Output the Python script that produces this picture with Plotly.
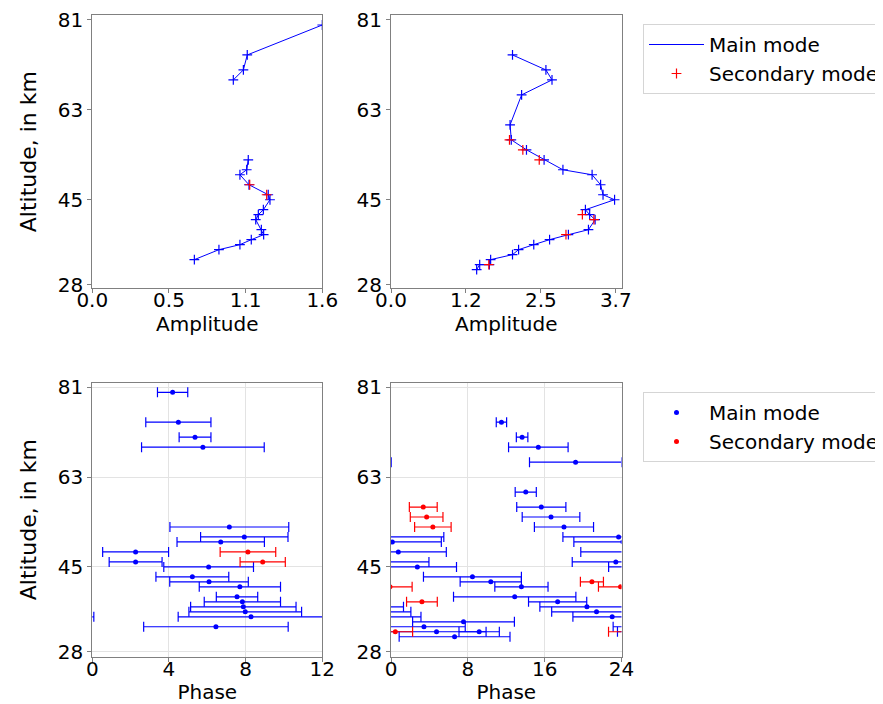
import plotly.graph_objects as go

# ---------------- data ----------------
# Left site (period 12 h)
alt_left = [80, 74, 71, 69, 66, 53, 51, 50, 48, 46, 45, 43, 42, 41, 39, 38, 37, 36, 35, 33]
amp_left = [1.60, 1.078, 1.051, 0.981, None, 1.085, 1.074, 1.027, 1.09, 1.224, 1.236,
            1.190, 1.155, 1.137, 1.176, 1.192, 1.106, 1.027, 0.881, 0.710]
phase_left = [4.19, 4.49, 5.36, 5.77, None, 7.15, 7.93, 6.70, 2.26, 2.26, 6.07,
              5.22, 6.09, 7.70, 7.55, 7.83, 7.88, 7.98, 8.28, 6.45]
phase_err_left = [0.79, 1.7, 0.83, 3.2, None, 3.1, 2.28, 2.28, 1.72, 1.38, 2.34,
                  1.9, 2.05, 2.12, 1.08, 1.99, 2.75, 2.94, 3.8, 3.77]
sec_alt_left = [48, 46]
sec_amp_left = [1.095, 1.213]
sec_phase_left = [8.12, 8.89]
sec_phase_err_left = [1.45, 1.18]

# Right site (period 24 h)
alt_right = [74, 71, 69, 66, 60, 57, 55, 53, 51, 50, 48, 46, 45, 43, 42, 41, 39, 38,
             37, 36, 35, 34, 33, 32, 32, 31]
amp_right = [2.00, 2.55, 2.65, 2.15, 1.96, 1.98, 2.23, 2.52, 2.83, 3.31, 3.45, 3.49,
             3.68, 3.20, 3.27, 3.36, 3.25, 2.92, 2.61, 2.35, 2.10, 2.00, 1.64, 1.62,
             1.46, 1.41]
phase_right = [11.50, 13.65, 15.34, 19.22, 14.03, 15.65, 16.66, 18.01, 23.7, 0.14,
               0.76, 23.41, 2.74, 8.48, 10.39, 13.58, 12.88, 17.35, 20.4, 21.4, 23.03,
               7.55, 3.43, 4.74, 9.18, 6.62]
phase_err_right = [0.54, 0.6, 3.1, 4.8, 1.1, 2.56, 3.0, 3.08, 5.8, 5.1, 5.0, 4.54,
                   4.08, 5.1, 3.19, 2.77, 6.37, 3.03, 4.9, 4.67, 4.09, 5.3, 4.3, 5.16,
                   2.1, 5.77]
sec_alt_right = [57, 55, 53, 42, 41, 38, 32]
sec_amp_right = [1.95, 2.17, 2.44, 3.15, 3.34, 2.88, 1.61]
sec_phase_right = [3.36, 3.71, 4.36, 20.92, 23.9, 3.22, 0.45]
sec_phase_err_right = [1.45, 1.7, 1.9, 1.2, 2.3, 1.6, 1.8]

# ticks
alt_ticks = [28, 45, 63, 81]
amp_left_ticks = [0.0, 0.5333, 1.0667, 1.6]
amp_left_labels = ["0.0", "0.5", "1.1", "1.6"]
amp_right_ticks = [0.0, 1.2333, 2.4667, 3.7]
amp_right_labels = ["0.0", "1.2", "2.5", "3.7"]
phase_left_ticks = [0, 4, 8, 12]
phase_right_ticks = [0, 8, 16, 24]
period_left = 12
period_right = 24

BLUE = "blue"
RED = "red"
FONT = "DejaVu Sans"

fig = go.Figure()


def phase_traces(alts, ph, err, color, xa, ya, name, show, period):
    pts = [(a, p, e) for a, p, e in zip(alts, ph, err) if p is not None]
    al = [q[0] for q in pts]
    pl = [q[1] for q in pts]
    el = [q[2] for q in pts]
    for shift in (0, -period, period):
        fig.add_trace(go.Scatter(
            x=[p + shift for p in pl], y=al, mode="markers",
            marker=dict(color=color, size=5),
            error_x=dict(type="data", array=el, color=color, thickness=1.2, width=5),
            name=name, showlegend=(show and shift == 0), legend="legend2",
            xaxis=xa, yaxis=ya, cliponaxis=True))


CROSS = dict(symbol="cross-thin", size=7)

# top-left amplitude
fig.add_trace(go.Scatter(x=amp_left, y=alt_left, mode="lines", line=dict(color=BLUE, width=1),
                         name="Main mode", showlegend=True, legend="legend",
                         xaxis="x", yaxis="y", connectgaps=False))
fig.add_trace(go.Scatter(x=amp_left, y=alt_left, mode="markers",
                         marker=dict(**CROSS, line=dict(color=BLUE, width=1.2)),
                         showlegend=False, xaxis="x", yaxis="y"))
fig.add_trace(go.Scatter(x=sec_amp_left, y=sec_alt_left, mode="markers",
                         marker=dict(**CROSS, line=dict(color=RED, width=1.2)),
                         name="Secondary mode", showlegend=False, xaxis="x", yaxis="y"))
# top-right amplitude
fig.add_trace(go.Scatter(x=amp_right, y=alt_right, mode="lines", line=dict(color=BLUE, width=1),
                         showlegend=False, xaxis="x2", yaxis="y2"))
fig.add_trace(go.Scatter(x=amp_right, y=alt_right, mode="markers",
                         marker=dict(**CROSS, line=dict(color=BLUE, width=1.2)),
                         showlegend=False, xaxis="x2", yaxis="y2"))
fig.add_trace(go.Scatter(x=sec_amp_right, y=sec_alt_right, mode="markers",
                         marker=dict(**CROSS, line=dict(color=RED, width=1.2)),
                         name="Secondary mode", showlegend=True, legend="legend",
                         xaxis="x2", yaxis="y2"))

# bottom phase panels
phase_traces(alt_left, phase_left, phase_err_left, BLUE, "x3", "y3", "Main mode", True, period_left)
phase_traces(sec_alt_left, sec_phase_left, sec_phase_err_left, RED, "x3", "y3", "Secondary mode", False, period_left)
phase_traces(alt_right, phase_right, phase_err_right, BLUE, "x4", "y4", "Main mode", False, period_right)
phase_traces(sec_alt_right, sec_phase_right, sec_phase_err_right, RED, "x4", "y4", "Secondary mode", True, period_right)

# page body adds an 8px offset; figure laid out in reference pixel coordinates
OFF = 8
W, H = 883 - OFF, 704 - OFF


def px(x0, x1):
    return [(x0 - OFF) / W, (x1 - OFF) / W]


def py(ytop, ybot):
    return [(704 - ybot) / H, (704 - ytop) / H]


xl = px(92.3, 322.3)
xr = px(391.0, 621.5)
yt = py(15.0, 288.3)
yb = py(382.7, 656.7)

common = dict(showline=True, mirror=True, linecolor="#808080", linewidth=1,
              ticks="outside", ticklen=4, tickcolor="#808080", zeroline=False,
              ticklabeloverflow="allow",
              tickfont=dict(size=20, color="black", family=FONT))
xcommon = dict(ticklabelstandoff=-10)
gridon = dict(showgrid=True, gridcolor="#e3e3e3", gridwidth=1)
gridoff = dict(showgrid=False)
xtitle = lambda t: dict(text=t, font=dict(size=20), standoff=5)
ytitle = lambda t: dict(text=t, font=dict(size=22))

fig.update_layout(
    width=W, height=H, plot_bgcolor="white", paper_bgcolor="white",
    margin=dict(l=0, r=0, t=0, b=0, autoexpand=False),
    font=dict(family=FONT, size=20, color="black"),
    xaxis=dict(domain=xl, anchor="y", range=[0, 1.6], tickvals=amp_left_ticks, ticktext=amp_left_labels,
               title=xtitle("Amplitude"), **common, **xcommon, **gridoff),
    yaxis=dict(domain=yt, anchor="x", range=[27.26, 82.0], tickvals=alt_ticks,
               title=ytitle("Altitude, in km"), **common, **gridoff),
    xaxis2=dict(domain=xr, anchor="y2", range=[0, 3.794], tickvals=amp_right_ticks, ticktext=amp_right_labels,
                title=xtitle("Amplitude"), **common, **xcommon, **gridoff),
    yaxis2=dict(domain=yt, anchor="x2", range=[27.26, 82.0], tickvals=alt_ticks, **common, **gridoff),
    xaxis3=dict(domain=xl, anchor="y3", range=[0, 12], tickvals=phase_left_ticks,
                title=xtitle("Phase"), **common, **xcommon, **gridon),
    yaxis3=dict(domain=yb, anchor="x3", range=[27.0, 81.92], tickvals=alt_ticks,
                title=ytitle("Altitude, in km"), **common, **gridon),
    xaxis4=dict(domain=xr, anchor="y4", range=[0, 24], tickvals=phase_right_ticks,
                title=xtitle("Phase"), **common, **xcommon, **gridon),
    yaxis4=dict(domain=yb, anchor="x4", range=[27.0, 81.92], tickvals=alt_ticks, **common, **gridon),
    legend=dict(x=(643 - OFF) / W, y=(704 - 24) / H, xanchor="left", yanchor="top",
                bgcolor="white", bordercolor="#d5d5d5", borderwidth=1,
                font=dict(size=20, family=FONT), itemwidth=55),
    legend2=dict(x=(643 - OFF) / W, y=(704 - 392) / H, xanchor="left", yanchor="top",
                 bgcolor="white", bordercolor="#d5d5d5", borderwidth=1,
                 font=dict(size=20, family=FONT), itemwidth=55),
)

fig.write_html("out.html")
